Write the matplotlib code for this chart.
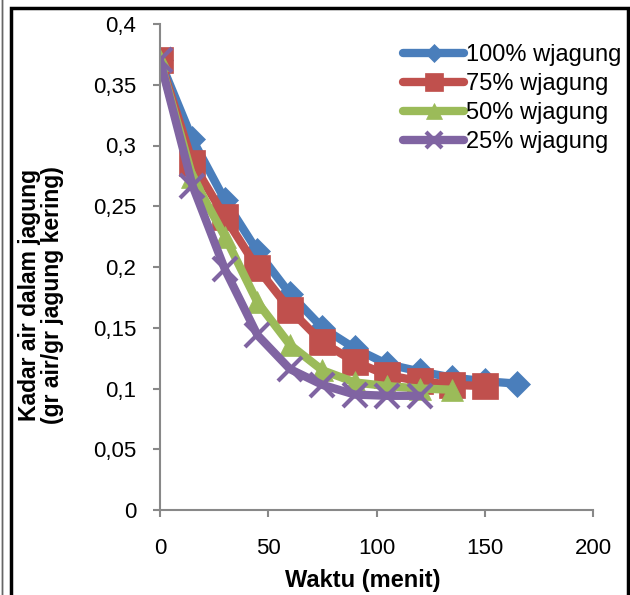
import matplotlib.pyplot as plt
from matplotlib.patches import Rectangle
from matplotlib.ticker import FuncFormatter

# Data
t100 = [0, 15, 30, 45, 60, 75, 90, 105, 120, 135, 150, 165]
y100 = [0.370, 0.305, 0.255, 0.213, 0.178, 0.150, 0.133, 0.120, 0.114, 0.109, 0.106, 0.104]
t75 = [0, 15, 30, 45, 60, 75, 90, 105, 120, 135, 150]
y75 = [0.370, 0.286, 0.241, 0.199, 0.165, 0.138, 0.122, 0.111, 0.106, 0.103, 0.102]
t50 = [0, 15, 30, 45, 60, 75, 90, 105, 120, 135]
y50 = [0.370, 0.274, 0.225, 0.171, 0.136, 0.115, 0.105, 0.102, 0.100, 0.099]
t25 = [0, 15, 30, 45, 60, 75, 90, 105, 120]
y25 = [0.370, 0.267, 0.198, 0.144, 0.116, 0.103, 0.095, 0.094, 0.094]

labels = ["100% wjagung", "75% wjagung", "50% wjagung", "25% wjagung"]
xticks = [0, 50, 100, 150, 200]
yticks = [0, 0.05, 0.1, 0.15, 0.2, 0.25, 0.3, 0.35, 0.4]

plt.rcParams['font.family'] = ['Liberation Sans', 'DejaVu Sans']

W, H = 630, 595
fig = plt.figure(figsize=(W / 100, H / 100), dpi=100)
ax = fig.add_axes([160 / W, 85 / H, 433 / W, 486 / H])

series = [
    (t100, y100, '#4A7EBB', 'D', 13),
    (t75, y75, '#C0504D', 's', 19),
    (t50, y50, '#9BBB59', '^', 16),
    (t25, y25, '#8064A2', 'x', 17),
]
for (t, y, c, m, ms), lab in zip(series, labels):
    ax.plot(t, y, color=c, linewidth=6, marker=m, markersize=ms,
            markeredgewidth=3 if m == 'x' else 0.5,
            markeredgecolor=c, label=lab, solid_capstyle='round')

ax.set_xlim(0, 200)
ax.set_ylim(0, 0.4)
ax.set_xticks(xticks)
ax.set_yticks(yticks)
ax.yaxis.set_major_formatter(FuncFormatter(lambda v, p: f"{v:g}".replace('.', ',')))

for s in ['top', 'right']:
    ax.spines[s].set_visible(False)
for s in ['left', 'bottom']:
    ax.spines[s].set_color('#888888')
    ax.spines[s].set_linewidth(1.5)
ax.tick_params(direction='out', length=5, width=1.5, color='#888888',
               labelsize=16)
ax.tick_params(axis='y', pad=12)
ax.tick_params(axis='x', pad=15)

fig.text(363 / W, 1 - 581 / H, "Waktu (menit)", fontsize=17,
         fontweight='bold', ha='center', va='center')
fig.text(41 / W, 1 - 295 / H, "Kadar air dalam jagung\n(gr air/gr jagung kering)",
         fontsize=16.5, fontweight='bold', rotation=90, ha='center',
         va='center', multialignment='center', linespacing=0.95)

ax.legend(loc='upper right', bbox_to_anchor=(621 / W, 1 - 44 / H),
          bbox_transform=fig.transFigure, frameon=False,
          fontsize=17, handlelength=2.6, handletextpad=0.05,
          labelspacing=0.3, borderpad=0, borderaxespad=0, markerscale=0.7)

# outer frame
fig.patches.append(Rectangle((11 / W, -0.05), 617 / W, (587 / H) + 0.05,
                             transform=fig.transFigure, fill=False,
                             edgecolor='black', linewidth=2.5))
fig.patches.append(Rectangle((2 / W, -0.05), 0.0, 1.1,
                             transform=fig.transFigure, fill=False,
                             edgecolor='#666666', linewidth=1))

fig.savefig("out.png", dpi=100)
